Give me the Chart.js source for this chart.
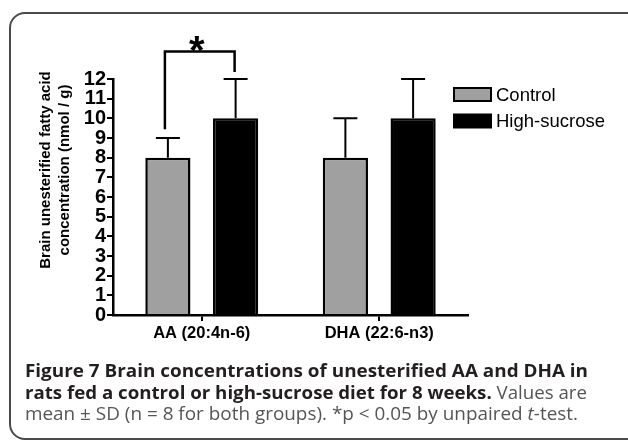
<!DOCTYPE html>
<html>
<head>
<meta charset="utf-8">
<script src="https://cdn.jsdelivr.net/npm/chart.js@4.4.1/dist/chart.umd.min.js"></script>
<style>
  html, body { margin: 0; padding: 0; background: #fff; }
  body { width: 628px; height: 440px; position: relative; overflow: hidden; }
  #frame {
    position: absolute; left: 9px; top: 12px; width: 650px; height: 424px;
    border: 2px solid #4a4a4a; border-radius: 16px;
  }
  #chart { position: absolute; left: 0; top: 0; }
  .cap {
    position: absolute; left: 25px; white-space: nowrap;
    font-family: 'Open Sans', sans-serif; font-size: 18.5px; line-height: 22px;
    color: #555; transform-origin: 0 50%;
  }
  .cap b { color: #231f20; font-weight: 700; }
</style>
</head>
<body>
<div id="frame"></div>
<canvas id="chart" width="628" height="440"></canvas>
<div class="cap" id="cap1" data-w="563" style="top:359px"><b>Figure 7 Brain concentrations of unesterified AA and DHA in</b></div>
<div class="cap" id="cap2" data-w="562" style="top:381px"><b>rats fed a control or high-sucrose diet for 8 weeks.</b> Values are</div>
<div class="cap" id="cap3" data-w="553" style="top:402px">mean &plusmn; SD (n = 8 for both groups). *p &lt; 0.05 by unpaired <i>t</i>-test.</div>
<script>
// Chart data
const categories = ['AA (20:4n-6)', 'DHA (22:6-n3)'];
const seriesNames = ['Control', 'High-sucrose'];
const controlMeans = [8, 8];
const controlSD = [1, 2];
const sucroseMeans = [10, 10];
const sucroseSD = [2, 2];
const yMin = 0;
const yMax = 12;
const yStep = 1;
const yTitle = ['Brain unesterified fatty acid', 'concentration (nmol / g)'];

// significance marker between Control and High-sucrose in the first group
const sigCategory = 0;
const sigText = '*';

const FONT = "'Liberation Sans', Arial, sans-serif";

// Fit each caption line to its width in the figure
document.querySelectorAll('.cap').forEach((el) => {
  const w = el.getBoundingClientRect().width;
  el.style.transform = 'scaleX(' + (Number(el.dataset.w) / w) + ')';
});

// Upward error bars, GraphPad style
const errorBars = {
  id: 'errorBars',
  afterDatasetsDraw(chart) {
    const ctx = chart.ctx;
    const y = chart.scales.y;
    const sds = [controlSD, sucroseSD];
    ctx.save();
    ctx.strokeStyle = '#000';
    ctx.lineWidth = 2;
    chart.data.datasets.forEach((ds, d) => {
      chart.getDatasetMeta(d).data.forEach((bar, i) => {
        const top = y.getPixelForValue(ds.data[i] + sds[d][i]);
        ctx.beginPath();
        ctx.moveTo(bar.x, bar.y);
        ctx.lineTo(bar.x, top);
        ctx.moveTo(bar.x - 12, top);
        ctx.lineTo(bar.x + 12, top);
        ctx.stroke();
      });
    });
    ctx.restore();
  }
};

// Bracket with star, y-axis title and legend
const extras = {
  id: 'extras',
  afterDraw(chart) {
    const ctx = chart.ctx;
    const y = chart.scales.y;
    const b0 = chart.getDatasetMeta(0).data[sigCategory];
    const b1 = chart.getDatasetMeta(1).data[sigCategory];
    const x0 = b0.x - 3;
    const x1 = b1.x - 1;
    const topY = y.getPixelForValue(13.4);
    ctx.save();
    ctx.strokeStyle = '#000';
    ctx.lineWidth = 2.5;
    ctx.beginPath();
    ctx.moveTo(x0, y.getPixelForValue(9.45));
    ctx.lineTo(x0, topY);
    ctx.lineTo(x1, topY);
    ctx.lineTo(x1, y.getPixelForValue(12.35));
    ctx.stroke();

    ctx.fillStyle = '#000';
    ctx.font = 'bold 40px ' + FONT;
    ctx.textAlign = 'center';
    ctx.textBaseline = 'alphabetic';
    ctx.fillText(sigText, (x0 + x1) / 2 - 3, 64);

    // y-axis title, two lines rotated
    ctx.save();
    ctx.translate(0, 170);
    ctx.rotate(-Math.PI / 2);
    ctx.font = 'bold 15px ' + FONT;
    ctx.textBaseline = 'middle';
    ctx.fillText(yTitle[0], 0, 45.5);
    ctx.fillText(yTitle[1], 0, 64.5);
    ctx.restore();

    // legend
    const rows = [94.5, 121];
    ctx.font = '18.5px ' + FONT;
    ctx.textAlign = 'left';
    ctx.textBaseline = 'middle';
    chart.data.datasets.forEach((ds, d) => {
      const cy = rows[d];
      ctx.fillStyle = ds.backgroundColor;
      ctx.fillRect(454, cy - 6.5, 37, 13);
      ctx.lineWidth = 2;
      ctx.strokeRect(454, cy - 6.5, 37, 13);
      ctx.fillStyle = '#000';
      ctx.fillText(ds.label, 496, cy + 1);
    });
    ctx.restore();
  }
};

new Chart(document.getElementById('chart'), {
  type: 'bar',
  data: {
    labels: categories,
    datasets: [{
      label: seriesNames[0],
      data: controlMeans,
      backgroundColor: '#a0a0a0',
      borderColor: '#000',
      borderWidth: 2.5
    }, {
      label: seriesNames[1],
      data: sucroseMeans,
      backgroundColor: '#000',
      borderColor: '#000',
      borderWidth: 2.5
    }]
  },
  options: {
    responsive: false,
    animation: false,
    categoryPercentage: 0.763,
    barPercentage: 0.667,
    layout: { padding: { top: 79, right: 160, bottom: 96, left: 0 } },
    plugins: {
      legend: { display: false },
      tooltip: { enabled: false }
    },
    scales: {
      x: {
        afterFit: (scale) => { scale.height = 29; },
        grid: {
          display: true,
          drawOnChartArea: false,
          drawTicks: true,
          tickLength: 6,
          offset: false,
          color: '#000',
          lineWidth: 2
        },
        border: { display: true, color: '#000', width: 2.5 },
        ticks: {
          color: '#000',
          padding: 3,
          font: { family: FONT, size: 16.5, weight: 'bold' }
        }
      },
      y: {
        min: yMin,
        max: yMax,
        afterFit: (scale) => { scale.width = 113; },
        grid: {
          display: true,
          drawOnChartArea: false,
          drawTicks: true,
          tickLength: 6,
          color: '#000',
          lineWidth: 2
        },
        border: { display: true, color: '#000', width: 2.5 },
        ticks: {
          stepSize: yStep,
          autoSkip: false,
          color: '#000',
          padding: 1,
          font: { family: FONT, size: 20, weight: 'bold' }
        }
      }
    }
  },
  plugins: [errorBars, extras]
});
</script>
</body>
</html>
